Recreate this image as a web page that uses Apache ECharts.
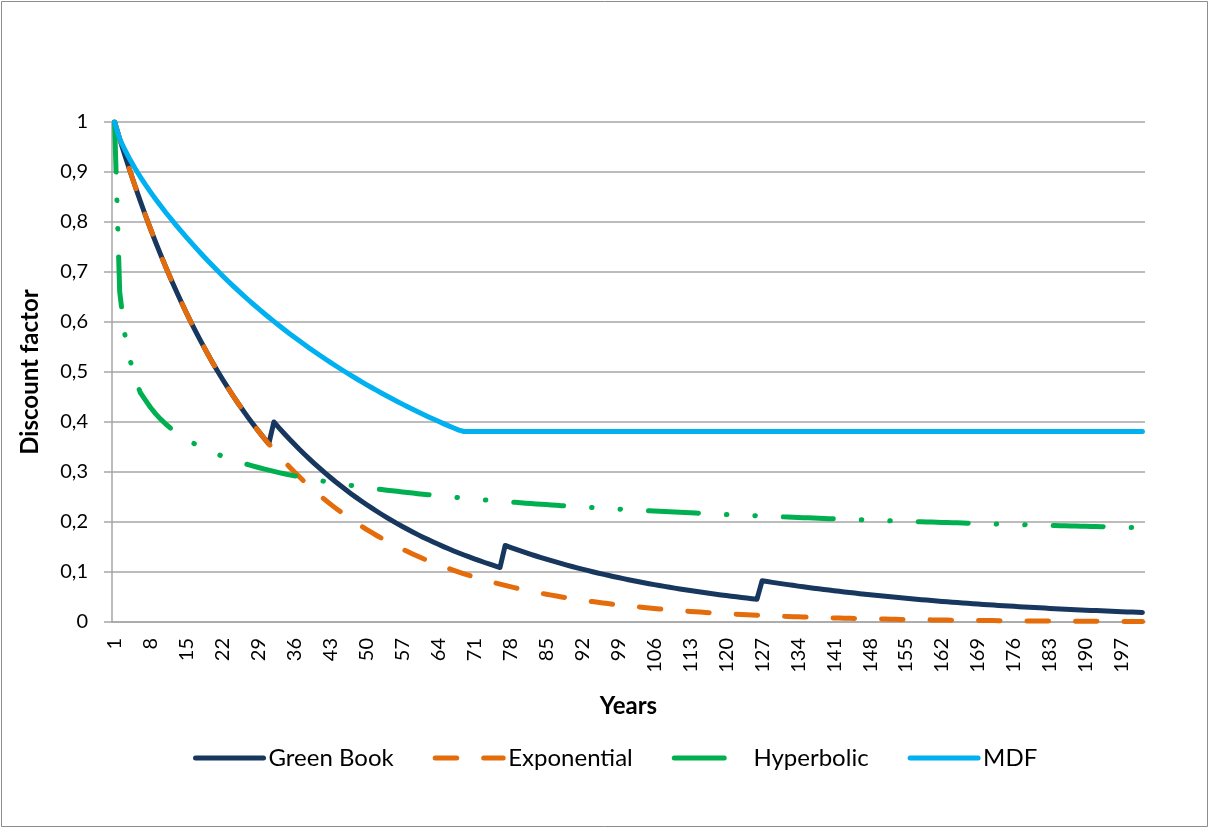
<!DOCTYPE html>
<html>
<head>
<meta charset="utf-8">
<script src="https://cdn.jsdelivr.net/npm/echarts@6/dist/echarts.min.js"></script>
<style>
  html, body { margin: 0; padding: 0; background: #fff; }
  #chart { width: 1210px; height: 828px; }
</style>
</head>
<body>
<div id="chart"></div>
<script>
// Categories: years 1..201
const years = Array.from({ length: 201 }, (_, i) => String(i + 1));

const yTickLabels = ['0', '0,1', '0,2', '0,3', '0,4', '0,5', '0,6', '0,7', '0,8', '0,9', '1'];

const seriesNames = ['Green Book', 'Exponential', 'Hyperbolic', 'MDF'];

const greenBook = [
  1, 0.9662, 0.9335, 0.9019, 0.8714, 0.842, 0.8135, 0.786, 0.7594, 0.7337,
  0.7089, 0.6849, 0.6618, 0.6394, 0.6178, 0.5969, 0.5767, 0.5572, 0.5384, 0.5202,
  0.5026, 0.4856, 0.4692, 0.4533, 0.438, 0.4231, 0.4088, 0.395, 0.3817, 0.3687,
  0.3563, 0.4, 0.3883, 0.377, 0.366, 0.3554, 0.345, 0.335, 0.3252, 0.3158,
  0.3066, 0.2976, 0.289, 0.2805, 0.2724, 0.2644, 0.2567, 0.2493, 0.242, 0.235,
  0.2281, 0.2215, 0.215, 0.2088, 0.2027, 0.1968, 0.191, 0.1855, 0.1801, 0.1748,
  0.1697, 0.1648, 0.16, 0.1553, 0.1508, 0.1464, 0.1421, 0.138, 0.134, 0.1301,
  0.1263, 0.1226, 0.119, 0.1156, 0.1122, 0.1089, 0.1531, 0.1494, 0.1457, 0.1422,
  0.1387, 0.1353, 0.132, 0.1288, 0.1256, 0.1226, 0.1196, 0.1167, 0.1138, 0.111,
  0.1083, 0.1057, 0.1031, 0.1006, 0.0981, 0.0957, 0.0934, 0.0911, 0.0889, 0.0867,
  0.0846, 0.0825, 0.0805, 0.0785, 0.0766, 0.0748, 0.0729, 0.0712, 0.0694, 0.0677,
  0.0661, 0.0645, 0.0629, 0.0614, 0.0599, 0.0584, 0.057, 0.0556, 0.0542, 0.0529,
  0.0516, 0.0503, 0.0491, 0.0479, 0.0467, 0.0456, 0.0825, 0.0809, 0.0793, 0.0777,
  0.0762, 0.0747, 0.0733, 0.0718, 0.0704, 0.069, 0.0677, 0.0664, 0.0651, 0.0638,
  0.0625, 0.0613, 0.0601, 0.0589, 0.0578, 0.0566, 0.0555, 0.0544, 0.0534, 0.0523,
  0.0513, 0.0503, 0.0493, 0.0483, 0.0474, 0.0465, 0.0455, 0.0447, 0.0438, 0.0429,
  0.0421, 0.0412, 0.0404, 0.0396, 0.0389, 0.0381, 0.0374, 0.0366, 0.0359, 0.0352,
  0.0345, 0.0338, 0.0332, 0.0325, 0.0319, 0.0313, 0.0306, 0.03, 0.0294, 0.0289,
  0.0283, 0.0278, 0.0272, 0.0267, 0.0262, 0.0256, 0.0251, 0.0246, 0.0242, 0.0237,
  0.0232, 0.0228, 0.0223, 0.0219, 0.0215, 0.021, 0.0206, 0.0202, 0.0198, 0.0194,
  0.0191
];

const exponential = [
  1, 0.9662, 0.9335, 0.9019, 0.8714, 0.842, 0.8135, 0.786, 0.7594, 0.7337,
  0.7089, 0.6849, 0.6618, 0.6394, 0.6178, 0.5969, 0.5767, 0.5572, 0.5384, 0.5202,
  0.5026, 0.4856, 0.4692, 0.4533, 0.438, 0.4231, 0.4088, 0.395, 0.3817, 0.3687,
  0.3563, 0.3442, 0.3326, 0.3213, 0.3105, 0.3, 0.2898, 0.28, 0.2706, 0.2614,
  0.2526, 0.244, 0.2358, 0.2278, 0.2201, 0.2127, 0.2055, 0.1985, 0.1918, 0.1853,
  0.1791, 0.173, 0.1672, 0.1615, 0.1561, 0.1508, 0.1457, 0.1408, 0.136, 0.1314,
  0.1269, 0.1227, 0.1185, 0.1145, 0.1106, 0.1069, 0.1033, 0.0998, 0.0964, 0.0931,
  0.09, 0.087, 0.084, 0.0812, 0.0784, 0.0758, 0.0732, 0.0707, 0.0683, 0.066,
  0.0638, 0.0616, 0.0596, 0.0575, 0.0556, 0.0537, 0.0519, 0.0501, 0.0484, 0.0468,
  0.0452, 0.0437, 0.0422, 0.0408, 0.0394, 0.0381, 0.0368, 0.0355, 0.0343, 0.0332,
  0.0321, 0.031, 0.0299, 0.0289, 0.0279, 0.027, 0.0261, 0.0252, 0.0243, 0.0235,
  0.0227, 0.022, 0.0212, 0.0205, 0.0198, 0.0191, 0.0185, 0.0179, 0.0173, 0.0167,
  0.0161, 0.0156, 0.015, 0.0145, 0.014, 0.0136, 0.0131, 0.0127, 0.0122, 0.0118,
  0.0114, 0.011, 0.0107, 0.0103, 0.01, 0.0096, 0.0093, 0.009, 0.0087, 0.0084,
  0.0081, 0.0078, 0.0076, 0.0073, 0.0071, 0.0068, 0.0066, 0.0064, 0.0062, 0.006,
  0.0058, 0.0055, 0.0054, 0.0052, 0.005, 0.0048, 0.0047, 0.0045, 0.0044, 0.0042,
  0.0041, 0.0039, 0.0038, 0.0037, 0.0035, 0.0034, 0.0033, 0.0032, 0.0031, 0.003,
  0.0029, 0.0028, 0.0027, 0.0026, 0.0025, 0.0024, 0.0023, 0.0022, 0.0022, 0.0021,
  0.002, 0.002, 0.0019, 0.0018, 0.0018, 0.0017, 0.0016, 0.0016, 0.0015, 0.0015,
  0.0014, 0.0014, 0.0013, 0.0013, 0.0012, 0.0012, 0.0011, 0.0011, 0.0011, 0.001,
  0.001
];

const hyperbolic = [
  1, 0.66, 0.575, 0.525, 0.486, 0.459, 0.4439, 0.429, 0.4163, 0.4052,
  0.3955, 0.3868, 0.379, 0.3719, 0.3654, 0.3595, 0.3539, 0.3488, 0.3441, 0.3396,
  0.3355, 0.3316, 0.3278, 0.3243, 0.3209, 0.3177, 0.3147, 0.3118, 0.309, 0.3063,
  0.3037, 0.3012, 0.2988, 0.2965, 0.2943, 0.2922, 0.2902, 0.2882, 0.2863, 0.2845,
  0.2827, 0.281, 0.2793, 0.2777, 0.2761, 0.2746, 0.2731, 0.2716, 0.2702, 0.2689,
  0.2676, 0.2662, 0.265, 0.2637, 0.2625, 0.2613, 0.2601, 0.2589, 0.2578, 0.2566,
  0.2555, 0.2545, 0.2535, 0.2524, 0.2515, 0.2505, 0.2495, 0.2486, 0.2477, 0.2468,
  0.2459, 0.245, 0.2442, 0.2433, 0.2425, 0.2417, 0.2409, 0.2401, 0.2393, 0.2385,
  0.2377, 0.237, 0.2362, 0.2355, 0.2348, 0.2341, 0.2334, 0.2327, 0.2321, 0.2314,
  0.2308, 0.2301, 0.2295, 0.2289, 0.2283, 0.2276, 0.227, 0.2265, 0.2259, 0.2253,
  0.2247, 0.2242, 0.2236, 0.2231, 0.2226, 0.222, 0.2215, 0.221, 0.2204, 0.2199,
  0.2194, 0.2189, 0.2184, 0.2179, 0.2174, 0.2169, 0.2164, 0.216, 0.2155, 0.215,
  0.2146, 0.2141, 0.2137, 0.2133, 0.2128, 0.2124, 0.212, 0.2115, 0.2111, 0.2107,
  0.2103, 0.2099, 0.2095, 0.2091, 0.2087, 0.2083, 0.2079, 0.2075, 0.2071, 0.2067,
  0.2063, 0.206, 0.2056, 0.2052, 0.2049, 0.2045, 0.2042, 0.2038, 0.2035, 0.2031,
  0.2028, 0.2024, 0.2021, 0.2018, 0.2014, 0.2011, 0.2008, 0.2005, 0.2001, 0.1998,
  0.1995, 0.1992, 0.1989, 0.1986, 0.1983, 0.198, 0.1977, 0.1974, 0.1971, 0.1968,
  0.1965, 0.1962, 0.1959, 0.1956, 0.1954, 0.1951, 0.1948, 0.1945, 0.1942, 0.1939,
  0.1936, 0.1934, 0.1931, 0.1929, 0.1926, 0.1923, 0.1921, 0.1918, 0.1916, 0.1913,
  0.1911, 0.1908, 0.1906, 0.1903, 0.1901, 0.1898, 0.1896, 0.1893, 0.1891, 0.1888,
  0.1886
];

const mdf = [
  1, 0.966, 0.9445, 0.9249, 0.907, 0.8904, 0.8747, 0.8598, 0.8455, 0.8319,
  0.8186, 0.8059, 0.7934, 0.7812, 0.7693, 0.7576, 0.7462, 0.735, 0.724, 0.7133,
  0.7029, 0.6926, 0.6826, 0.6727, 0.6631, 0.6537, 0.6445, 0.6355, 0.6266, 0.618,
  0.6095, 0.6012, 0.593, 0.585, 0.5772, 0.5694, 0.5619, 0.5544, 0.5471, 0.5399,
  0.5329, 0.526, 0.5192, 0.5125, 0.506, 0.4995, 0.4932, 0.487, 0.4809, 0.4749,
  0.469, 0.4632, 0.4576, 0.452, 0.4465, 0.4411, 0.4358, 0.4306, 0.4255, 0.4205,
  0.4156, 0.4107, 0.406, 0.4014, 0.3968, 0.3923, 0.388, 0.3837, 0.381, 0.381,
  0.381, 0.381, 0.381, 0.381, 0.381, 0.381, 0.381, 0.381, 0.381, 0.381,
  0.381, 0.381, 0.381, 0.381, 0.381, 0.381, 0.381, 0.381, 0.381, 0.381,
  0.381, 0.381, 0.381, 0.381, 0.381, 0.381, 0.381, 0.381, 0.381, 0.381,
  0.381, 0.381, 0.381, 0.381, 0.381, 0.381, 0.381, 0.381, 0.381, 0.381,
  0.381, 0.381, 0.381, 0.381, 0.381, 0.381, 0.381, 0.381, 0.381, 0.381,
  0.381, 0.381, 0.381, 0.381, 0.381, 0.381, 0.381, 0.381, 0.381, 0.381,
  0.381, 0.381, 0.381, 0.381, 0.381, 0.381, 0.381, 0.381, 0.381, 0.381,
  0.381, 0.381, 0.381, 0.381, 0.381, 0.381, 0.381, 0.381, 0.381, 0.381,
  0.381, 0.381, 0.381, 0.381, 0.381, 0.381, 0.381, 0.381, 0.381, 0.381,
  0.381, 0.381, 0.381, 0.381, 0.381, 0.381, 0.381, 0.381, 0.381, 0.381,
  0.381, 0.381, 0.381, 0.381, 0.381, 0.381, 0.381, 0.381, 0.381, 0.381,
  0.381, 0.381, 0.381, 0.381, 0.381, 0.381, 0.381, 0.381, 0.381, 0.381,
  0.381, 0.381, 0.381, 0.381, 0.381, 0.381, 0.381, 0.381, 0.381, 0.381,
  0.381
];

const FONT = 'Lato, "Open Sans", sans-serif';
const GRID_COLOR = '#a6a6a6';
const COLORS = { 'Green Book': '#17375e', 'Exponential': '#e46c0a', 'Hyperbolic': '#00b050', 'MDF': '#00b0f0' };

const chart = echarts.init(document.getElementById('chart'), null, { renderer: 'canvas' });

const lineBase = (color, type, width) => ({
  color: color, width: width, type: type, cap: 'round', join: 'round'
});

const mkSeries = (name, data, type, z) => ({
  name: name, type: 'line', data: data, showSymbol: false, symbol: 'none',
  itemStyle: { color: COLORS[name] },
  lineStyle: lineBase(COLORS[name], type, 5), z: z
});

chart.setOption({
  animation: false,
  backgroundColor: '#ffffff',
  color: seriesNames.map(n => COLORS[n]),
  graphic: [{
    type: 'rect',
    shape: { x: 1.5, y: 1.5, width: 1206, height: 825 },
    style: { fill: 'none', stroke: '#8c8c8c', lineWidth: 1 },
    silent: true
  }],
  grid: { left: 112, right: 65, top: 122, bottom: 206, containLabel: false },
  legend: {
    left: 188,
    top: 741,
    itemWidth: 68,
    itemHeight: 24,
    itemGap: 39,
    data: seriesNames,
    formatter: function (name) { return name === 'Hyperbolic' ? ' ' + name : name; },
    itemStyle: { opacity: 0 },
    lineStyle: { width: 5, cap: 'round' },
    textStyle: { fontFamily: FONT, fontSize: 24, color: '#000' }
  },
  xAxis: {
    type: 'category',
    data: years,
    boundaryGap: true,
    name: 'Years',
    nameLocation: 'middle',
    nameGap: 72,
    nameTextStyle: { fontFamily: FONT, fontSize: 24, fontWeight: 'bold', color: '#000' },
    axisLine: { show: true, lineStyle: { color: GRID_COLOR, width: 1.5 } },
    axisTick: { show: false },
    splitLine: { show: false },
    axisLabel: {
      interval: 6,
      rotate: 90,
      margin: 16,
      fontFamily: FONT,
      fontSize: 20,
      color: '#000'
    }
  },
  yAxis: {
    type: 'value',
    min: 0,
    max: 1,
    interval: 0.1,
    name: 'Discount factor',
    nameLocation: 'middle',
    nameRotate: 90,
    nameGap: 70,
    nameTextStyle: { fontFamily: FONT, fontSize: 24, fontWeight: 'bold', color: '#000' },
    axisLine: { show: true, lineStyle: { color: GRID_COLOR, width: 1.5 } },
    axisTick: { show: true, length: 8, inside: false, lineStyle: { color: GRID_COLOR, width: 1.5 } },
    splitLine: { show: true, lineStyle: { color: GRID_COLOR, width: 1.5 } },
    axisLabel: {
      margin: 24,
      fontFamily: FONT,
      fontSize: 20,
      color: '#000',
      formatter: function (v) { return yTickLabels[Math.round(v * 10)]; }
    }
  },
  series: [
    mkSeries('Green Book', greenBook, 'solid', 2),
    mkSeries('Exponential', exponential, [21.5, 27], 3),
    mkSeries('Hyperbolic', hyperbolic, [50, 28, 0.5, 28, 0.5, 28], 4),
    mkSeries('MDF', mdf, 'solid', 5)
  ]
});
</script>
</body>
</html>
